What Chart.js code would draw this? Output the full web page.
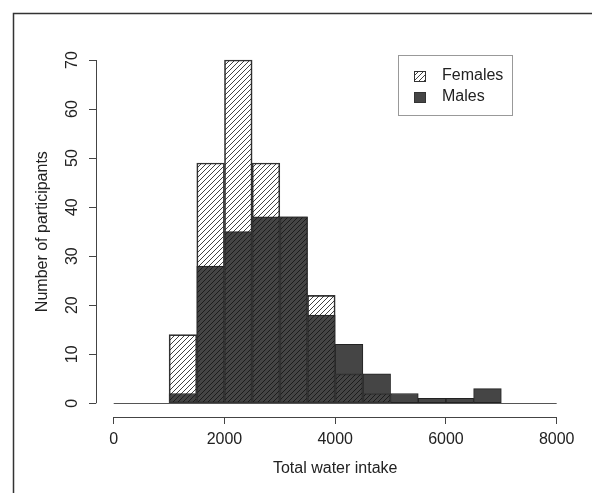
<!DOCTYPE html>
<html>
<head>
<meta charset="utf-8">
<script src="https://cdn.jsdelivr.net/npm/chart.js@4/dist/chart.umd.min.js"></script>
<style>
  html, body { margin: 0; padding: 0; background: #fff; }
  #c { display: block; }
</style>
</head>
<body>
<canvas id="c" width="592" height="493" style="width:592px;height:493px"></canvas>
<script>
// ---- data ----
const binStarts = [1000, 1500, 2000, 2500, 3000, 3500, 4000, 4500, 5000, 5500, 6000, 6500];
const binWidth = 500;
const females = [14, 49, 70, 49, 38, 22, 6, 2, 0, 0, 0, 0];
const males   = [2, 28, 35, 38, 38, 18, 12, 6, 2, 1, 1, 3];
const xTicks = [0, 2000, 4000, 6000, 8000];
const yTicks = [0, 10, 20, 30, 40, 50, 60, 70];
const seriesNames = ['Females', 'Males'];
const xTitle = 'Total water intake';
const yTitle = 'Number of participants';

const FONT = "'Liberation Sans', Arial, Helvetica, sans-serif";
const TEXT = '#222';
const AXIS = '#444';

const canvas = document.getElementById('c');
const ctx = canvas.getContext('2d');

function hatchPattern(color) {
  const s = 5;
  const t = document.createElement('canvas');
  t.width = s; t.height = s;
  const g = t.getContext('2d');
  g.strokeStyle = color;
  g.lineWidth = 0.8;
  g.beginPath();
  g.moveTo(0, s); g.lineTo(s, 0);
  g.moveTo(-1, 1); g.lineTo(1, -1);
  g.moveTo(s - 1, s + 1); g.lineTo(s + 1, s - 1);
  g.stroke();
  return ctx.createPattern(t, 'repeat');
}
const femaleFill = hatchPattern('#111111');
const maleFill = '#454545';

const toPoints = arr => binStarts.map((s, i) => ({ x: s + binWidth / 2, y: arr[i] > 0 ? arr[i] : null }));

const decor = {
  id: 'decor',
  afterDraw(chart) {
    const c = chart.ctx;
    const xs = chart.scales.x, ys = chart.scales.y;
    c.save();
    // outer frame (top + left)
    c.strokeStyle = '#333';
    c.lineWidth = 1.5;
    c.beginPath();
    c.moveTo(13.5, 493); c.lineTo(13.5, 13.5); c.lineTo(592, 13.5);
    c.stroke();

    // axis lines
    c.strokeStyle = AXIS;
    c.lineWidth = 1;
    const ax = Math.round(chart.chartArea.left) + 0.5;
    c.beginPath();
    c.moveTo(ax, ys.getPixelForValue(yTicks[0]));
    c.lineTo(ax, ys.getPixelForValue(yTicks[yTicks.length - 1]));
    c.stroke();
    const ay = Math.round(chart.chartArea.bottom) + 0.5;
    c.beginPath();
    c.moveTo(xs.getPixelForValue(xTicks[0]), ay);
    c.lineTo(xs.getPixelForValue(xTicks[xTicks.length - 1]), ay);
    c.stroke();

    // baseline at y = 0
    const by = Math.round(ys.getPixelForValue(0)) + 0.5;
    c.strokeStyle = '#555';
    c.beginPath();
    c.moveTo(xs.getPixelForValue(xTicks[0]), by);
    c.lineTo(xs.getPixelForValue(xTicks[xTicks.length - 1]), by);
    c.stroke();

    // rotated y tick labels
    c.fillStyle = TEXT;
    c.font = '16px ' + FONT;
    c.textAlign = 'center';
    c.textBaseline = 'middle';
    yTicks.forEach(v => {
      c.save();
      c.translate(73, ys.getPixelForValue(v));
      c.rotate(-Math.PI / 2);
      c.fillText(String(v), 0, 0);
      c.restore();
    });

    // legend
    c.strokeStyle = '#999';
    c.lineWidth = 1;
    c.strokeRect(398.5, 55.5, 114, 60);
    const items = [
      { name: seriesNames[0], fill: femaleFill, y: 76 },
      { name: seriesNames[1], fill: maleFill, y: 97 }
    ];
    items.forEach(it => {
      c.fillStyle = it.fill;
      c.fillRect(414, it.y - 5, 12, 11);
      c.strokeStyle = '#333';
      c.strokeRect(414.5, it.y - 4.5, 11, 10);
      c.fillStyle = TEXT;
      c.textAlign = 'left';
      c.textBaseline = 'middle';
      c.font = '16px ' + FONT;
      c.fillText(it.name, 442, it.y);
    });
    c.restore();
  }
};

new Chart(ctx, {
  type: 'bar',
  data: {
    datasets: [
      {
        label: seriesNames[0],
        data: toPoints(females),
        backgroundColor: femaleFill,
        borderColor: '#333',
        borderWidth: 1,
        borderSkipped: false
      },
      {
        label: seriesNames[1],
        data: toPoints(males),
        backgroundColor: maleFill,
        borderColor: '#222',
        borderWidth: 1,
        borderSkipped: false
      }
    ]
  },
  options: {
    responsive: false,
    animation: false,
    devicePixelRatio: 1,
    grouped: false,
    barPercentage: 1,
    categoryPercentage: 1,
    layout: { padding: { left: 0, top: 46.3, right: 17.6, bottom: 0 } },
    plugins: { legend: { display: false }, tooltip: { enabled: false } },
    scales: {
      x: {
        type: 'linear',
        min: -320,
        max: 8320,
        offset: false,
        afterBuildTicks: s => { s.ticks = xTicks.map(v => ({ value: v })); },
        afterFit: s => { s.height = 76; },
        grid: { offset: false, drawOnChartArea: false, drawTicks: true, tickLength: 7, color: AXIS, lineWidth: 1 },
        border: { display: false },
        ticks: { padding: 6, color: TEXT, font: { size: 16, family: FONT }, maxRotation: 0, autoSkip: false, callback: v => String(v) },
        title: { display: true, text: xTitle, color: TEXT, font: { size: 16, family: FONT }, padding: { top: 0, bottom: 15 } }
      },
      y: {
        type: 'linear',
        min: -2.8,
        max: 72.8,
        afterBuildTicks: s => { s.ticks = yTicks.map(v => ({ value: v })); },
        afterFit: s => { s.width = 96; },
        grid: { drawOnChartArea: false, drawTicks: true, tickLength: 7, color: AXIS, lineWidth: 1 },
        border: { display: false },
        ticks: { display: false },
        title: { display: true, text: yTitle, color: TEXT, font: { size: 16, family: FONT }, padding: { top: 32.5, bottom: 0 } }
      }
    }
  },
  plugins: [decor]
});
</script>
</body>
</html>
